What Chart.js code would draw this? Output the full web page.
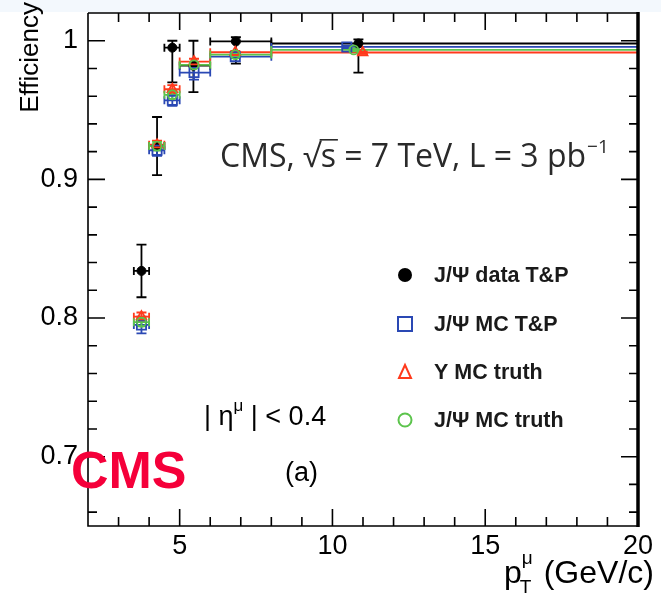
<!DOCTYPE html>
<html>
<head>
<meta charset="utf-8">
<script src="https://cdn.jsdelivr.net/npm/chart.js@4.4.1/dist/chart.umd.min.js"></script>
<style>
  html, body { margin: 0; padding: 0; background: #fff; }
  canvas { display: block; }
</style>
</head>
<body>
<canvas id="effChart" width="661" height="593"></canvas>
<script>
// pT bin edges (GeV/c)
const binLow  = [3.5, 4.0, 4.5, 5.0, 6.0, 8.0];
const binHigh = [4.0, 4.5, 5.0, 6.0, 8.0, 20.0];

// J/psi data T&P
const dataPt    = [3.75, 4.26, 4.76, 5.45, 6.84, 10.85];
const dataEff   = [0.834, 0.924, 0.995, 0.982, 0.9995, 0.998];
const dataErrLo = [0.019, 0.021, 0.025, 0.019, 0.016, 0.021];
const dataErrHi = [0.019, 0.021, 0.005, 0.018, 0.003, 0.003];

// J/psi MC T&P
const mcTpPt  = [3.75, 4.26, 4.76, 5.47, 6.82, 10.47];
const mcTpEff = [0.795, 0.921, 0.957, 0.977, 0.9885, 0.9955];
const mcTpErr = [0.006, 0.004, 0.004, 0.005, 0.001, 0.001];

// Upsilon MC truth
const upsPt  = [3.75, 4.26, 4.76, 5.47, 6.82, 10.99];
const upsEff = [0.801, 0.925, 0.965, 0.985, 0.9917, 0.9915];
const upsErr = [0.003, 0.003, 0.003, 0.002, 0.001, 0.001];

// J/psi MC truth
const mcTruthPt  = [3.75, 4.26, 4.76, 5.47, 6.82, 10.70];
const mcTruthEff = [0.797, 0.924, 0.961, 0.9826, 0.990, 0.9934];
const mcTruthErr = [0.003, 0.003, 0.003, 0.002, 0.001, 0.001];

const xTickVals = [5, 10, 15, 20];
const yTickVals = [0.7, 0.8, 0.9, 1];

const FONT = '"Liberation Sans", Arial, Helvetica, sans-serif';

function points(pt, eff, errLo, errHi) {
    return pt.map((x, i) => ({
        x: x, y: eff[i],
        xlo: binLow[i], xhi: binHigh[i],
        elo: errLo[i], ehi: errHi[i]
    }));
}

// error bars with small end caps, drawn under the markers
const errorBars = {
    id: 'errorBars',
    beforeDatasetsDraw(chart) {
        const ctx = chart.ctx, xs = chart.scales.x, ys = chart.scales.y;
        chart.data.datasets.forEach(ds => {
            ctx.save();
            ctx.strokeStyle = ds.borderColor;
            ctx.lineWidth = 1.8;
            ds.data.forEach(p => {
                const px = xs.getPixelForValue(p.x), py = ys.getPixelForValue(p.y);
                const x0 = xs.getPixelForValue(p.xlo), x1 = xs.getPixelForValue(p.xhi);
                const y0 = ys.getPixelForValue(p.y - p.elo), y1 = ys.getPixelForValue(p.y + p.ehi);
                ctx.beginPath();
                ctx.moveTo(x0, py); ctx.lineTo(x1, py);
                ctx.moveTo(px, y0); ctx.lineTo(px, y1);
                ctx.moveTo(x0, py - 4); ctx.lineTo(x0, py + 4);
                ctx.moveTo(x1, py - 4); ctx.lineTo(x1, py + 4);
                ctx.moveTo(px - 5, y0); ctx.lineTo(px + 5, y0);
                ctx.moveTo(px - 5, y1); ctx.lineTo(px + 5, y1);
                ctx.stroke();
            });
            ctx.restore();
        });
    }
};

// ROOT style frame with inward ticks on all four sides
const frame = {
    id: 'frame',
    beforeDraw(chart) {
        const ctx = chart.ctx;
        ctx.save();
        ctx.fillStyle = '#f3f8fd';
        ctx.fillRect(0, 0, chart.width, 12);
        ctx.restore();
    },
    afterDatasetsDraw(chart) {
        const ctx = chart.ctx, a = chart.chartArea;
        const xs = chart.scales.x, ys = chart.scales.y;
        ctx.save();
        ctx.strokeStyle = '#000';
        ctx.lineWidth = 1.6;
        ctx.beginPath();
        ctx.moveTo(a.left, a.top); ctx.lineTo(a.left, a.bottom);
        ctx.lineTo(a.right, a.bottom);
        ctx.moveTo(a.left, a.top); ctx.lineTo(a.right, a.top);
        for (let v = 3; v < 20; v++) {
            const len = v % 5 === 0 ? 17 : 9;
            const px = xs.getPixelForValue(v);
            ctx.moveTo(px, a.bottom); ctx.lineTo(px, a.bottom - len);
            ctx.moveTo(px, a.top); ctx.lineTo(px, a.top + len);
        }
        for (let k = 0; k <= 18; k++) {
            const v = 0.66 + k * 0.02;
            const major = Math.abs(v * 10 - Math.round(v * 10)) < 1e-6;
            const len = major ? 17 : 9;
            const py = ys.getPixelForValue(v);
            ctx.moveTo(a.left, py); ctx.lineTo(a.left + len, py);
            ctx.moveTo(a.right, py); ctx.lineTo(a.right - len, py);
        }
        ctx.stroke();
        ctx.lineWidth = 3.5;
        ctx.beginPath();
        ctx.moveTo(a.right, a.top - 1); ctx.lineTo(a.right, a.bottom + 1);
        ctx.stroke();
        ctx.restore();
    }
};

// text, labels and legend
const annotations = {
    id: 'annotations',
    afterDraw(chart) {
        const ctx = chart.ctx;
        ctx.save();
        ctx.fillStyle = '#000';
        ctx.textBaseline = 'alphabetic';

        // y title
        ctx.save();
        ctx.translate(38, 2);
        ctx.rotate(-Math.PI / 2);
        ctx.textAlign = 'right';
        ctx.font = '26px ' + FONT;
        ctx.fillText('Efficiency', 0, 0);
        ctx.restore();

        // x title: p_T^mu (GeV/c)
        ctx.textAlign = 'left';
        let x = 504;
        ctx.font = '32px ' + FONT;
        ctx.fillText('p', x, 583);
        const pw = ctx.measureText('p').width;
        ctx.font = '19px ' + FONT;
        ctx.fillText('T', x + pw - 2, 593);
        ctx.fillText('\u03bc', x + pw, 564);
        ctx.font = '32px ' + FONT;
        ctx.fillText(' (GeV/c)', x + pw + 13, 583);

        // CMS, sqrt(s) = 7 TeV, L = 3 pb^-1
        ctx.fillStyle = '#2a2a2a';
        ctx.font = '32px "Open Sans", ' + FONT;
        x = 220;
        const base = 167;
        ctx.fillText('CMS, ', x, base); x += ctx.measureText('CMS, ').width;
        ctx.fillText('\u221a', x, base); x += ctx.measureText('\u221a').width;
        const sw = ctx.measureText('s').width;
        ctx.fillText('s', x, base);
        ctx.fillRect(x - 1, base - 28, sw + 3, 1.6);
        x += sw;
        const rest = ' = 7 TeV, L = 3 pb';
        ctx.fillText(rest, x, base); x += ctx.measureText(rest).width;
        ctx.font = '19px "Open Sans", ' + FONT;
        ctx.fillText('\u22121', x + 1, base - 14);

        // |eta^mu| < 0.4
        ctx.fillStyle = '#000';
        ctx.font = '27px ' + FONT;
        x = 204;
        ctx.fillText('| \u03b7', x, 425); x += ctx.measureText('| \u03b7').width;
        ctx.font = '17px ' + FONT;
        ctx.fillText('\u03bc', x, 411); x += ctx.measureText('\u03bc').width;
        ctx.font = '27px ' + FONT;
        ctx.fillText(' | < 0.4', x, 425);

        // (a)
        ctx.fillText('(a)', 285, 481);

        // legend
        const rows = [
            { label: 'J/\u03a8 data T&P', style: 'dot', color: '#000' },
            { label: 'J/\u03a8 MC T&P', style: 'square', color: '#2a48b4' },
            { label: '\u03a5 MC truth', style: 'triangle', color: '#ff3a1c' },
            { label: 'J/\u03a8 MC truth', style: 'circle', color: '#5cc44c' }
        ];
        const rowY = [275, 324, 372, 420];
        ctx.font = 'bold 21.5px ' + FONT;
        ctx.textBaseline = 'middle';
        rows.forEach((r, i) => {
            const cx = 405, cy = rowY[i];
            ctx.strokeStyle = r.color;
            ctx.fillStyle = r.color;
            ctx.lineWidth = 2;
            ctx.beginPath();
            if (r.style === 'dot') {
                ctx.arc(cx, cy, 7, 0, Math.PI * 2); ctx.fill();
            } else if (r.style === 'square') {
                ctx.rect(cx - 7, cy - 7, 14, 14); ctx.stroke();
            } else if (r.style === 'triangle') {
                ctx.moveTo(cx, cy - 7); ctx.lineTo(cx + 6, cy + 6); ctx.lineTo(cx - 6, cy + 6);
                ctx.closePath(); ctx.stroke();
            } else {
                ctx.arc(cx, cy, 6.5, 0, Math.PI * 2); ctx.stroke();
            }
            ctx.fillStyle = '#1a1a1a';
            ctx.fillText(r.label, 434, cy + 1);
        });

        // red CMS logo text
        ctx.textBaseline = 'alphabetic';
        ctx.fillStyle = '#f5003a';
        ctx.font = 'bold 52px ' + FONT;
        ctx.fillText('CMS', 71, 488);
        ctx.restore();
    }
};

new Chart(document.getElementById('effChart'), {
    type: 'scatter',
    data: {
        datasets: [
            {
                label: 'J/\u03a8 data T&P',
                data: points(dataPt, dataEff, dataErrLo, dataErrHi),
                borderColor: '#000', backgroundColor: '#000',
                pointStyle: 'circle', pointRadius: 4.5, borderWidth: 1, order: 4
            },
            {
                label: 'J/\u03a8 MC T&P',
                data: points(mcTpPt, mcTpEff, mcTpErr, mcTpErr),
                borderColor: '#2a48b4', backgroundColor: 'rgba(0,0,0,0)',
                pointStyle: 'rect', pointRadius: 6.5, borderWidth: 1.8, order: 3
            },
            {
                label: '\u03a5 MC truth',
                data: points(upsPt, upsEff, upsErr, upsErr),
                borderColor: '#ff3a1c', backgroundColor: 'rgba(0,0,0,0)',
                pointStyle: 'triangle', pointRadius: 5.5, borderWidth: 1.8, order: 2
            },
            {
                label: 'J/\u03a8 MC truth',
                data: points(mcTruthPt, mcTruthEff, mcTruthErr, mcTruthErr),
                borderColor: '#5cc44c', backgroundColor: 'rgba(0,0,0,0)',
                pointStyle: 'circle', pointRadius: 4.5, borderWidth: 1.8, order: 1
            }
        ]
    },
    options: {
        responsive: false,
        animation: false,
        devicePixelRatio: 1,
        layout: { padding: { top: 13, right: 23, left: 0, bottom: 0 } },
        plugins: {
            legend: { display: false },
            tooltip: { enabled: false }
        },
        scales: {
            x: {
                type: 'linear', min: 2, max: 20,
                grid: { display: false, drawTicks: false },
                border: { display: false },
                afterBuildTicks: s => { s.ticks = xTickVals.map(v => ({ value: v })); },
                afterFit: s => { s.height = 67; s.paddingLeft = 0; s.paddingRight = 0; },
                ticks: { color: '#000', padding: 4, maxRotation: 0, font: { family: FONT, size: 27 } }
            },
            y: {
                type: 'linear', min: 0.65, max: 1.02,
                grid: { display: false, drawTicks: false },
                border: { display: false },
                afterBuildTicks: s => { s.ticks = yTickVals.map(v => ({ value: v })); },
                afterFit: s => { s.width = 88; s.paddingTop = 0; s.paddingBottom = 0; },
                ticks: {
                    color: '#000', padding: 10, font: { family: FONT, size: 27 },
                    callback: v => v === 1 ? '1' : v.toFixed(1)
                }
            }
        }
    },
    plugins: [errorBars, frame, annotations]
});
</script>
</body>
</html>
